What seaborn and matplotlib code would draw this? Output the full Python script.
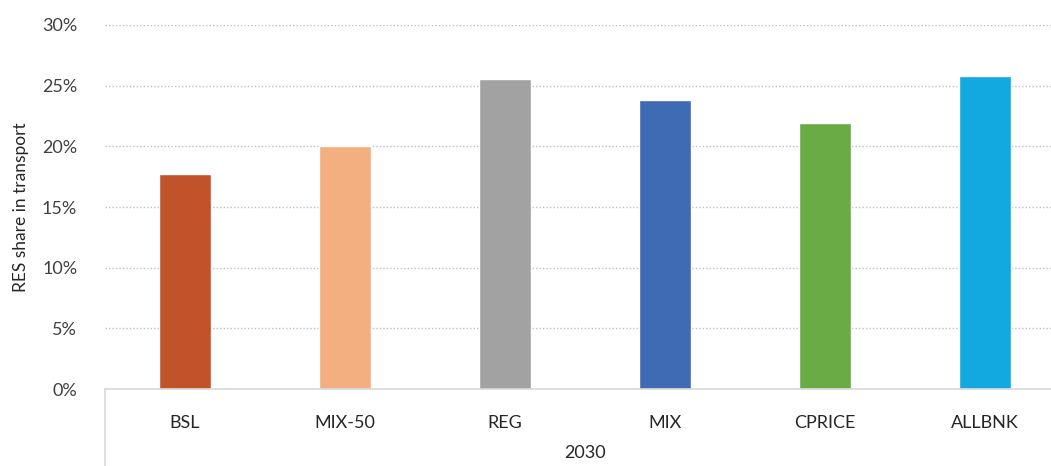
import numpy as np
import pandas as pd
import seaborn as sns
from matplotlib import pyplot as plt
from matplotlib.ticker import PercentFormatter

# data
scenarios = ["BSL", "MIX-50", "REG", "MIX", "CPRICE", "ALLBNK"]
res_share = [0.177, 0.200, 0.2555, 0.238, 0.2195, 0.258]
bar_colors = ["#C0532A", "#F4AF80", "#A2A2A2", "#3F6BB5", "#6AAB46", "#11A9E0"]
year_label = "2030"

df = pd.DataFrame({"scenario": scenarios, "share": res_share})

sns.set_style("white")
plt.rcParams["font.family"] = ["Lato", "DejaVu Sans"]

fig = plt.figure(figsize=(10.51, 4.66), dpi=100)
ax = fig.add_axes([105 / 1051, 1 - 389 / 466, 960 / 1051, 364 / 466])

sns.barplot(data=df, x="scenario", y="share", hue="scenario", palette=bar_colors,
            width=0.325, legend=False, ax=ax, saturation=1)

ax.set_ylim(0, 0.30)
ax.set_xlim(-0.5, 5.5)
ax.set_yticks(np.arange(0, 0.301, 0.05))
ax.yaxis.set_major_formatter(PercentFormatter(1.0, decimals=0))
ax.grid(axis="y", color="#BFBFBF", linestyle=(0, (1, 1.5)), linewidth=1)
ax.set_axisbelow(True)

for side in ["top", "right", "left"]:
    ax.spines[side].set_visible(False)
ax.spines["bottom"].set_color("#D9D9D9")
ax.spines["bottom"].set_linewidth(1.2)

# category group separator below the axis
ax.plot([-0.5, -0.5], [0, -0.22], transform=ax.get_xaxis_transform(),
        color="#D9D9D9", lw=1.2, clip_on=False)

ax.tick_params(axis="x", length=0, pad=19, labelsize=13, labelcolor="#262626")
ax.tick_params(axis="y", length=0, pad=20, labelsize=13, labelcolor="#404040")
ax.set_xlabel(year_label, fontsize=13, color="#262626", labelpad=10)
ax.set_ylabel("RES share in transport", fontsize=12.5, color="#262626", labelpad=9)

fig.savefig("out.png", dpi=100)
